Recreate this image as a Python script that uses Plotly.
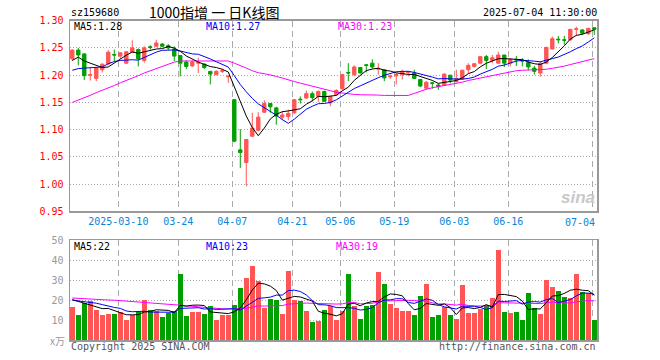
import plotly.graph_objects as go

# ---------------- data ----------------
dates = [
    "2025-02-26", "2025-02-27", "2025-02-28",
    "2025-03-03", "2025-03-04", "2025-03-05", "2025-03-06", "2025-03-07",
    "2025-03-10", "2025-03-11", "2025-03-12", "2025-03-13", "2025-03-14",
    "2025-03-17", "2025-03-18", "2025-03-19", "2025-03-20", "2025-03-21",
    "2025-03-24", "2025-03-25", "2025-03-26", "2025-03-27", "2025-03-28",
    "2025-03-31", "2025-04-01", "2025-04-02", "2025-04-03",
    "2025-04-07", "2025-04-08", "2025-04-09", "2025-04-10", "2025-04-11",
    "2025-04-14", "2025-04-15", "2025-04-16", "2025-04-17", "2025-04-18",
    "2025-04-21", "2025-04-22", "2025-04-23", "2025-04-24", "2025-04-25",
    "2025-04-28", "2025-04-29", "2025-04-30",
    "2025-05-06", "2025-05-07", "2025-05-08", "2025-05-09",
    "2025-05-12", "2025-05-13", "2025-05-14", "2025-05-15", "2025-05-16",
    "2025-05-19", "2025-05-20", "2025-05-21", "2025-05-22", "2025-05-23",
    "2025-05-26", "2025-05-27", "2025-05-28", "2025-05-29", "2025-05-30",
    "2025-06-03", "2025-06-04", "2025-06-05", "2025-06-06",
    "2025-06-09", "2025-06-10", "2025-06-11", "2025-06-12", "2025-06-13",
    "2025-06-16", "2025-06-17", "2025-06-18", "2025-06-19", "2025-06-20",
    "2025-06-23", "2025-06-24", "2025-06-25", "2025-06-26", "2025-06-27",
    "2025-06-30", "2025-07-01", "2025-07-02", "2025-07-03", "2025-07-04",
]

opens = [
    1.230, 1.246, 1.239,
    1.200, 1.194, 1.210, 1.221, 1.238,
    1.235, 1.222, 1.242, 1.247, 1.227,
    1.252, 1.253, 1.257, 1.254, 1.248,
    1.236, 1.224, 1.217, 1.222, 1.220,
    1.207, 1.201, 1.207, 1.197,
    1.155, 1.063, 1.040, 1.088, 1.099,
    1.132, 1.148, 1.140, 1.123, 1.124,
    1.131, 1.156, 1.158, 1.166, 1.161,
    1.170, 1.149, 1.164,
    1.175, 1.205, 1.201, 1.214,
    1.219, 1.222, 1.211, 1.210, 1.197,
    1.199, 1.201, 1.205, 1.204, 1.192,
    1.176, 1.186, 1.182, 1.181, 1.200,
    1.188, 1.193, 1.210, 1.216,
    1.222, 1.234, 1.227, 1.222, 1.237,
    1.222, 1.229, 1.227, 1.223, 1.213,
    1.204, 1.222, 1.248, 1.266, 1.265,
    1.265, 1.284, 1.283, 1.276, 1.287,
]
highs = [
    1.247, 1.250, 1.240,
    1.214, 1.215, 1.222, 1.246, 1.247,
    1.242, 1.244, 1.264, 1.249, 1.253,
    1.255, 1.265, 1.259, 1.257, 1.253,
    1.237, 1.227, 1.227, 1.232, 1.222,
    1.207, 1.209, 1.212, 1.200,
    1.155, 1.101, 1.082, 1.131, 1.132,
    1.154, 1.148, 1.142, 1.134, 1.137,
    1.156, 1.161, 1.172, 1.170, 1.172,
    1.172, 1.161, 1.174,
    1.201, 1.222, 1.218, 1.215,
    1.220, 1.229, 1.222, 1.211, 1.201,
    1.204, 1.210, 1.207, 1.210, 1.193,
    1.189, 1.188, 1.185, 1.203, 1.200,
    1.210, 1.210, 1.222, 1.222,
    1.235, 1.237, 1.237, 1.243, 1.237,
    1.231, 1.235, 1.231, 1.229, 1.217,
    1.225, 1.252, 1.271, 1.272, 1.272,
    1.285, 1.289, 1.284, 1.286, 1.288,
]
lows = [
    1.226, 1.218, 1.191,
    1.190, 1.189, 1.205, 1.218, 1.226,
    1.230, 1.221, 1.241, 1.216, 1.223,
    1.247, 1.252, 1.251, 1.246, 1.226,
    1.198, 1.211, 1.215, 1.204, 1.211,
    1.183, 1.200, 1.204, 1.186,
    1.077, 1.030, 0.996, 1.087, 1.097,
    1.131, 1.131, 1.109, 1.118, 1.117,
    1.129, 1.148, 1.157, 1.152, 1.151,
    1.151, 1.143, 1.163,
    1.172, 1.189, 1.198, 1.203,
    1.205, 1.212, 1.201, 1.189, 1.193,
    1.183, 1.192, 1.198, 1.193, 1.178,
    1.175, 1.175, 1.173, 1.180, 1.185,
    1.187, 1.192, 1.203, 1.214,
    1.220, 1.211, 1.222, 1.221, 1.215,
    1.216, 1.217, 1.216, 1.209, 1.201,
    1.197, 1.220, 1.247, 1.258, 1.256,
    1.263, 1.272, 1.274, 1.274, 1.274,
]
closes = [
    1.246, 1.237, 1.199,
    1.201, 1.213, 1.220, 1.242, 1.237,
    1.241, 1.243, 1.250, 1.230, 1.250,
    1.251, 1.259, 1.253, 1.250, 1.235,
    1.222, 1.216, 1.224, 1.223, 1.214,
    1.202, 1.207, 1.208, 1.198,
    1.079, 1.058, 1.082, 1.103, 1.123,
    1.148, 1.142, 1.125, 1.127, 1.130,
    1.155, 1.155, 1.166, 1.159, 1.170,
    1.152, 1.161, 1.172,
    1.201, 1.204, 1.215, 1.204,
    1.218, 1.215, 1.212, 1.195, 1.198,
    1.201, 1.207, 1.206, 1.194, 1.180,
    1.187, 1.185, 1.179, 1.202, 1.191,
    1.194, 1.209, 1.218, 1.221,
    1.234, 1.227, 1.232, 1.237, 1.222,
    1.229, 1.228, 1.226, 1.215, 1.207,
    1.222, 1.251, 1.267, 1.265, 1.264,
    1.284, 1.285, 1.277, 1.286, 1.284,
]
volumes = [  # 万
    16.3, 12.7, 18.5,
    19.3, 15.2, 12.7, 13.2, 13.2,
    14.0, 10.0, 12.5, 13.8, 19.8,
    15.2, 14.3, 11.3, 13.5, 14.3,
    33.2, 12.2, 13.8, 13.8, 13.2,
    17.2, 10.2, 12.7, 12.7,
    17.7, 26.2, 31.2, 37.2, 29.7,
    16.0, 20.7, 20.2, 13.2, 34.7,
    20.2, 19.3, 14.3, 8.8, 9.3,
    15.2, 16.8, 10.2,
    14.3, 33.2, 17.2, 10.7,
    17.2, 17.7, 33.8, 28.2, 18.2,
    16.0, 14.3, 14.3, 12.7, 21.8,
    28.2, 11.3, 12.7, 16.3, 12.7,
    10.7, 27.7, 13.7, 13.7,
    15.7, 17.7, 21.2, 45.2, 14.2,
    13.7, 14.2, 10.2, 23.7, 16.2,
    13.2, 30.2, 26.7, 24.7, 21.7,
    21.0, 33.0, 24.0, 23.7, 10.2,
]

# moving-average values at the left edge (window reaches before the first visible day)
ma5_head = [1.227, 1.233, 1.226, 1.222]
ma10_head = [1.209, 1.212, 1.213, 1.214, 1.214, 1.215, 1.221, 1.225, 1.227]
ma30_head = [1.150, 1.154, 1.159, 1.163, 1.168, 1.172, 1.177, 1.181, 1.186, 1.190,
             1.195, 1.199, 1.204, 1.208, 1.213, 1.217, 1.221, 1.224, 1.226, 1.226,
             1.226, 1.226, 1.226, 1.226, 1.226, 1.226, 1.226, 1.222, 1.218]
vol_ma5_head = [20.2, 19.3, 18.2, 17.5]
vol_ma10_head = [19.9, 19.6, 19.2, 18.9, 18.4, 17.7, 16.9, 16.3, 15.8]
vol_ma30_head = [21.0, 20.8, 20.6, 20.3, 20.2, 20.1, 20.0, 19.9, 19.7, 19.5,
                 19.3, 19.1, 18.9, 18.7, 18.5, 18.2, 18.0, 17.7, 17.4, 17.1,
                 16.8, 16.5, 16.2, 16.0, 15.8, 15.6, 15.5, 15.5, 15.6]

tick_dates = ["2025-03-10", "2025-03-24", "2025-04-07", "2025-04-21", "2025-05-06",
              "2025-05-19", "2025-06-03", "2025-06-16", "2025-07-04"]
tick_labels = ["2025-03-10", "03-24", "04-07", "04-21", "05-06", "05-19", "06-03", "06-16", "07-04"]
price_ticks = [0.95, 1.00, 1.05, 1.10, 1.15, 1.20, 1.25, 1.30]
vol_ticks = [10, 20, 30, 40, 50]

title_code = "sz159680"
title_name = "1000指增 一 日K线图"
title_time = "2025-07-04 11:30:00"
ma_labels = ["MA5:1.28", "MA10:1.27", "MA30:1.23"]
vol_ma_labels = ["MA5:22", "MA10:23", "MA30:19"]

# ---------------- helpers ----------------
def moving_average(values, n, head):
    out = list(head)
    for i in range(n - 1, len(values)):
        out.append(sum(values[i - n + 1:i + 1]) / n)
    return out

RED = "#ff5555"
GREEN = "#00a000"
MONO = "DejaVu Sans Mono"
W, H = 660, 360
L, R, T, B = 70, 63, 20, 20
PW, PH = W - L - R, H - T - B

def fx(px):
    return (px - L) / PW

def fy(py):
    return (H - B - py) / PH

x = list(range(len(dates)))
ma5 = moving_average(closes, 5, ma5_head)
ma10 = moving_average(closes, 10, ma10_head)
ma30 = moving_average(closes, 30, ma30_head)
vma5 = moving_average(volumes, 5, vol_ma5_head)
vma10 = moving_average(volumes, 10, vol_ma10_head)
vma30 = moving_average(volumes, 30, vol_ma30_head)
bar_colors = [RED if c >= o else GREEN for o, c in zip(opens, closes)]

fig = go.Figure()
fig.add_trace(go.Candlestick(
    x=x, open=opens, high=highs, low=lows, close=closes,
    increasing=dict(line=dict(color=RED, width=1), fillcolor=RED),
    decreasing=dict(line=dict(color=GREEN, width=1), fillcolor=GREEN),
    whiskerwidth=0, showlegend=False, hoverinfo="skip", xaxis="x", yaxis="y"))
for vals, col in [(ma30, "#ff00ff"), (ma10, "#0000ff"), (ma5, "#000000")]:
    fig.add_trace(go.Scatter(x=x, y=vals, mode="lines", line=dict(color=col, width=1),
                             showlegend=False, hoverinfo="skip", xaxis="x", yaxis="y"))

fig.add_trace(go.Bar(x=x, y=volumes, marker=dict(color=bar_colors, line=dict(width=0)),
                     width=0.78, showlegend=False, hoverinfo="skip", xaxis="x2", yaxis="y2"))
for vals, col in [(vma30, "#ff00ff"), (vma10, "#0000ff"), (vma5, "#000000")]:
    fig.add_trace(go.Scatter(x=x, y=vals, mode="lines", line=dict(color=col, width=1),
                             showlegend=False, hoverinfo="skip", xaxis="x2", yaxis="y2"))

tickvals = [dates.index(d) - 0.33 for d in tick_dates]
xrange = [-0.38, len(dates) - 0.55]
common_x = dict(range=xrange, tickvals=tickvals, showgrid=True, gridcolor="#aaaaaa",
                griddash="6px,4px", gridwidth=1, showline=True, mirror=True,
                linecolor="#999999", linewidth=1.5, zeroline=False, ticks="",
                fixedrange=True, rangeslider=dict(visible=False))
common_y = dict(showgrid=True, gridcolor="#aaaaaa", griddash="1px,2px", showline=True,
                mirror=True, linecolor="#999999", linewidth=1.5, zeroline=False,
                ticks="", ticklabelstandoff=3, fixedrange=True)

fig.update_layout(
    width=W, height=H, margin=dict(l=L, r=R, t=T, b=B, autoexpand=False),
    paper_bgcolor="white", plot_bgcolor="white", boxgap=0.2, bargap=0,
    hovermode=False,
    xaxis=dict(domain=[0, 1], anchor="y",
               ticktext=tick_labels[:-1] + [""],
               tickfont=dict(family=MONO, size=10, color="#0a84d8"), **common_x),
    yaxis=dict(domain=[0.4016, 0.998], range=[0.95, 1.30], tickvals=price_ticks,
               tickformat=".2f", tickfont=dict(family=MONO, size=10, color="#ff0000"),
               **common_y),
    xaxis2=dict(domain=[0, 1], anchor="y2", showticklabels=False, **common_x),
    yaxis2=dict(domain=[0, 0.3125], range=[0, 50], tickvals=vol_ticks,
                tickfont=dict(family=MONO, size=10, color="#999999"), **common_y),
)

ann = []
def text(px, py, s, color="#000", size=10, anchor="left", family=MONO, **kw):
    ann.append(dict(x=fx(px), y=fy(py), xref="paper", yref="paper", text=s,
                    showarrow=False, xanchor=anchor, yanchor="middle", borderpad=0,
                    font=dict(family=family, size=size, color=color), **kw))

text(70, 12, title_code)
text(214, 12, title_name, size=14, anchor="center", family="Noto Sans CJK SC")
text(598, 12, title_time, anchor="right")
text(73, 26, ma_labels[0], "#000000")
text(205, 26, ma_labels[1], "#0000ff")
text(337, 26, ma_labels[2], "#ff00ff")
text(73, 246, vol_ma_labels[0], "#000000")
text(205, 246, vol_ma_labels[1], "#0000ff")
text(335, 246, vol_ma_labels[2], "#ff00ff")
text(596, 222, tick_labels[-1], "#0a84d8", anchor="right")
text(66, 340, "x万", "#999999", anchor="right", family="Noto Sans CJK SC")
text(70, 346, "Copyright 2025 SINA.COM", "#555555")
text(597, 346, "http://finance.sina.com.cn", "#555555", anchor="right")
text(596, 197, "<b><i>sina</i></b>", "#c8c8c8", size=17, anchor="right", family="Arial")
fig.update_layout(annotations=ann)

# remove the page's default 8px body margin so the figure fills the window exactly
fig.write_html("out.html", config={"displayModeBar": False, "staticPlot": True},
               post_script="document.body.style.margin='0';")
